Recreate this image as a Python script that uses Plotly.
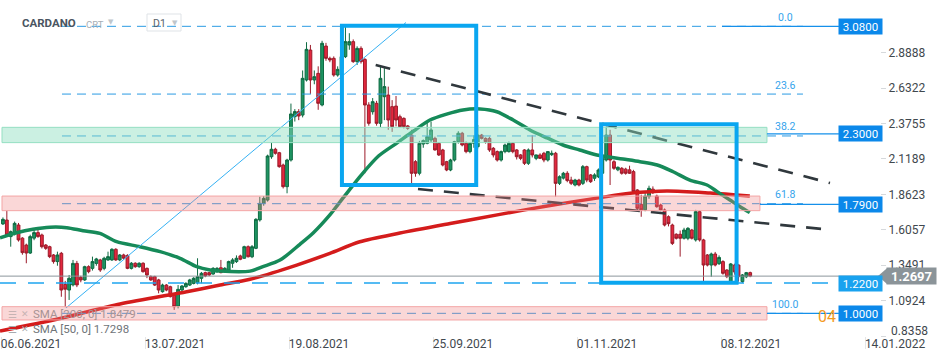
import pandas as pd
import plotly.graph_objects as go

START = pd.Timestamp("2021-06-06")

# ---------------- daily OHLC (CARDANO, D1) ----------------
open_ = [
    1.648, 1.676, 1.556, 1.581, 1.640, 1.545, 1.495, 1.437, 1.545, 1.585,
    1.568, 1.495, 1.483, 1.423, 1.375, 1.435, 1.210, 1.169, 1.206, 1.362,
    1.261, 1.242, 1.338, 1.326, 1.362, 1.387, 1.326, 1.387, 1.387, 1.464,
    1.387, 1.423, 1.420, 1.326, 1.363, 1.338, 1.363, 1.326, 1.266, 1.266,
    1.242, 1.157, 1.205, 1.193, 1.133, 1.053, 1.169, 1.193, 1.205, 1.217,
    1.222, 1.254, 1.295, 1.295, 1.285, 1.302, 1.330, 1.302, 1.314, 1.363,
    1.375, 1.416, 1.399, 1.483, 1.410, 1.471, 1.677, 1.797, 1.821, 2.135,
    2.189, 2.164, 2.075, 1.918, 2.111, 2.425, 2.462, 2.437, 2.691, 2.908,
    2.691, 2.739, 2.510, 2.937, 2.848, 2.848, 2.727, 2.768, 2.860, 2.945,
    2.969, 2.824, 2.920, 2.840, 2.510, 2.461, 2.522, 2.377, 2.570, 2.582,
    2.498, 2.502, 2.425, 2.413, 2.358, 2.292, 2.099, 2.015, 2.227, 2.232,
    2.256, 2.268, 2.232, 2.184, 2.099, 2.039, 2.111, 2.244, 2.305, 2.232,
    2.172, 2.232, 2.208, 2.292, 2.268, 2.268, 2.196, 2.172, 2.111, 2.172,
    2.172, 2.232, 2.184, 2.148, 2.184, 2.087, 2.184, 2.123, 2.148, 2.160,
    2.111, 2.150, 2.160, 1.942, 1.980, 2.015, 1.966, 1.930, 1.966, 1.942,
    2.063, 2.003, 1.979, 1.990, 2.015, 2.111, 2.292, 2.099, 2.040, 2.051,
    2.045, 2.040, 2.027, 1.894, 1.790, 1.750, 1.846, 1.900, 1.850, 1.785,
    1.749, 1.700, 1.640, 1.573, 1.573, 1.544, 1.544, 1.604, 1.532, 1.737,
    1.532, 1.423, 1.350, 1.430, 1.360, 1.375, 1.314, 1.230, 1.350, 1.350,
    1.230, 1.265, 1.295,
]
high = [
    1.695, 1.744, 1.600, 1.665, 1.655, 1.552, 1.505, 1.570, 1.610, 1.605,
    1.578, 1.502, 1.490, 1.430, 1.447, 1.445, 1.235, 1.278, 1.387, 1.380,
    1.272, 1.345, 1.348, 1.411, 1.402, 1.395, 1.410, 1.447, 1.472, 1.472,
    1.430, 1.432, 1.428, 1.372, 1.370, 1.370, 1.370, 1.332, 1.275, 1.272,
    1.250, 1.215, 1.212, 1.200, 1.140, 1.205, 1.205, 1.225, 1.250, 1.262,
    1.399, 1.300, 1.302, 1.300, 1.335, 1.335, 1.387, 1.335, 1.382, 1.400,
    1.420, 1.425, 1.490, 1.492, 1.495, 1.690, 1.845, 1.850, 2.150, 2.235,
    2.200, 2.170, 2.085, 2.120, 2.520, 2.480, 2.480, 2.760, 2.965, 2.945,
    2.760, 2.790, 2.975, 2.960, 2.860, 2.862, 2.790, 2.880, 3.080, 3.030,
    2.985, 2.935, 2.935, 2.850, 2.530, 2.560, 2.540, 2.790, 2.790, 2.643,
    2.545, 2.575, 2.440, 2.420, 2.365, 2.330, 2.110, 2.250, 2.260, 2.380,
    2.390, 2.280, 2.240, 2.192, 2.105, 2.120, 2.250, 2.320, 2.315, 2.245,
    2.240, 2.290, 2.365, 2.300, 2.275, 2.280, 2.205, 2.180, 2.180, 2.230,
    2.245, 2.240, 2.190, 2.155, 2.190, 2.195, 2.290, 2.150, 2.160, 2.170,
    2.175, 2.180, 2.170, 2.000, 2.025, 2.030, 1.990, 1.975, 1.975, 2.075,
    2.070, 2.010, 2.015, 2.050, 2.130, 2.353, 2.330, 2.110, 2.065, 2.060,
    2.055, 2.070, 2.040, 1.900, 1.860, 1.880, 1.925, 1.920, 1.860, 1.795,
    1.760, 1.710, 1.650, 1.580, 1.600, 1.620, 1.625, 1.612, 1.750, 1.745,
    1.540, 1.430, 1.440, 1.445, 1.420, 1.385, 1.320, 1.365, 1.360, 1.355,
    1.285, 1.300, 1.302,
]
low = [
    1.640, 1.560, 1.483, 1.565, 1.520, 1.425, 1.363, 1.430, 1.530, 1.548,
    1.470, 1.460, 1.400, 1.360, 1.345, 1.120, 1.045, 1.097, 1.195, 1.190,
    1.225, 1.235, 1.290, 1.310, 1.345, 1.300, 1.312, 1.380, 1.380, 1.380,
    1.378, 1.390, 1.320, 1.318, 1.330, 1.330, 1.295, 1.255, 1.235, 1.198,
    1.145, 1.150, 1.160, 1.115, 1.025, 1.036, 1.160, 1.185, 1.198, 1.210,
    1.210, 1.218, 1.262, 1.270, 1.280, 1.295, 1.290, 1.295, 1.310, 1.330,
    1.365, 1.385, 1.395, 1.405, 1.400, 1.465, 1.665, 1.780, 1.810, 2.120,
    2.150, 2.055, 1.905, 1.870, 2.100, 2.390, 2.400, 2.420, 2.680, 2.590,
    2.660, 2.475, 2.500, 2.830, 2.820, 2.715, 2.715, 2.750, 2.850, 2.910,
    2.815, 2.800, 2.810, 2.015, 2.360, 2.440, 2.360, 2.350, 2.400, 2.330,
    2.315, 2.355, 2.350, 2.340, 2.330, 1.942, 1.990, 2.000, 2.200, 2.225,
    2.240, 2.180, 2.140, 2.065, 2.030, 2.030, 2.100, 2.230, 2.210, 2.160,
    2.160, 2.200, 2.195, 2.260, 2.230, 2.170, 2.130, 2.100, 2.100, 2.160,
    2.165, 2.160, 2.115, 2.110, 2.075, 2.075, 2.130, 2.110, 2.120, 2.095,
    2.100, 2.140, 1.846, 1.930, 1.970, 1.950, 1.930, 1.920, 1.920, 1.930,
    1.950, 1.945, 1.960, 1.980, 2.000, 2.100, 1.930, 2.040, 2.030, 2.005,
    2.005, 2.010, 1.870, 1.750, 1.700, 1.740, 1.830, 1.865, 1.765, 1.740,
    1.630, 1.630, 1.495, 1.535, 1.411, 1.535, 1.530, 1.535, 1.520, 1.520,
    1.230, 1.340, 1.265, 1.340, 1.350, 1.280, 1.255, 1.220, 1.280, 1.230,
    1.220, 1.255, 1.262,
]
close = [
    1.681, 1.568, 1.592, 1.652, 1.532, 1.440, 1.437, 1.556, 1.585, 1.556,
    1.483, 1.471, 1.411, 1.375, 1.423, 1.169, 1.175, 1.254, 1.362, 1.206,
    1.242, 1.338, 1.302, 1.375, 1.394, 1.314, 1.399, 1.411, 1.464, 1.387,
    1.423, 1.400, 1.326, 1.363, 1.338, 1.363, 1.302, 1.278, 1.242, 1.205,
    1.169, 1.205, 1.169, 1.121, 1.048, 1.174, 1.198, 1.217, 1.242, 1.254,
    1.266, 1.290, 1.271, 1.278, 1.326, 1.326, 1.295, 1.326, 1.375, 1.387,
    1.399, 1.392, 1.483, 1.410, 1.483, 1.681, 1.797, 1.833, 2.140, 2.189,
    2.160, 2.063, 1.918, 2.111, 2.445, 2.462, 2.430, 2.703, 2.913, 2.691,
    2.715, 2.522, 2.957, 2.848, 2.836, 2.727, 2.768, 2.860, 2.969, 2.969,
    2.824, 2.920, 2.824, 2.510, 2.377, 2.534, 2.377, 2.703, 2.643, 2.401,
    2.353, 2.401, 2.353, 2.353, 2.341, 2.015, 2.015, 2.232, 2.252, 2.280,
    2.329, 2.184, 2.148, 2.075, 2.039, 2.111, 2.244, 2.305, 2.220, 2.172,
    2.232, 2.260, 2.292, 2.268, 2.244, 2.184, 2.148, 2.111, 2.172, 2.220,
    2.232, 2.172, 2.135, 2.123, 2.087, 2.184, 2.148, 2.148, 2.123, 2.111,
    2.172, 2.160, 1.942, 1.990, 2.015, 1.962, 1.942, 1.966, 1.930, 2.063,
    1.966, 1.954, 2.003, 2.039, 2.123, 2.292, 2.111, 2.051, 2.058, 2.015,
    2.015, 2.015, 1.882, 1.761, 1.750, 1.850, 1.906, 1.875, 1.773, 1.749,
    1.640, 1.650, 1.507, 1.544, 1.544, 1.604, 1.616, 1.544, 1.737, 1.532,
    1.350, 1.350, 1.430, 1.350, 1.405, 1.290, 1.266, 1.358, 1.300, 1.266,
    1.278, 1.295, 1.2697,
]

# ---------------- moving averages (days after START, value) ----------------
sma50_day = [-0.26, 4.0, 8.2, 12.6, 16.9, 21.1, 25.4, 29.7, 35.7, 40.9, 46.0, 50.3,
             53.7, 56.3, 64.0, 67.3, 71.7, 76.8, 80.2, 84.5, 88.0, 92.5, 97.0, 101.7,
             106.0, 110.2, 114.5, 118.7, 123.1, 127.4, 131.6, 135.9, 140.3, 144.4,
             148.7, 153.1, 159.8, 164.2, 168.6, 172.7, 177.0, 181.4, 184.0, 187.3,
             189.9, 192.4]
sma50_val = [1.548, 1.584, 1.609, 1.624, 1.621, 1.599, 1.580, 1.519, 1.483, 1.447,
             1.399, 1.338, 1.314, 1.306, 1.306, 1.338, 1.386, 1.500, 1.582, 1.713,
             1.840, 2.000, 2.140, 2.234, 2.321, 2.401, 2.444, 2.474, 2.481, 2.461,
             2.401, 2.329, 2.271, 2.220, 2.184, 2.147, 2.118, 2.099, 2.075, 2.026,
             1.966, 1.930, 1.882, 1.821, 1.773, 1.730]
sma200_day = [-0.26, 15.2, 30.6, 47.7, 56.3, 64.0, 76.0, 84.5, 92.2, 102.5, 115.4,
              128.2, 141.1, 153.1, 161.6, 171.1, 182.2, 192.4]
sma200_val = [0.872, 0.963, 1.068, 1.157, 1.205, 1.247, 1.350, 1.435, 1.519, 1.582,
              1.651, 1.717, 1.782, 1.835, 1.870, 1.887, 1.872, 1.850]

# ---------------- drawing objects ----------------
FIB_LEVELS = [3.08, 2.589, 2.2854, 1.7946, 1.0]
FIB_LABELS = ["0.0", "23.6", "38.2", "61.8", "100.0"]
FIB_SPAN = (15.67, 206.06)
GREEN_ZONE = (2.237, 2.348)
RED_ZONE_HI = (1.744, 1.850)
RED_ZONE_LO = (0.952, 1.0483)
ZONE_SPAN = {"green": (0.26, 196.8), "red_hi": (0.26, 195.0), "red_lo": (0.26, 196.8)}
BOX1 = dict(d0=87.6, d1=122.1, p0=1.930, p1=3.0845)
BOX2 = dict(d0=154.2, d1=189.0, p0=1.2222, p1=2.371)
UP_TREND = dict(d0=16.7, p0=1.039, d1=104.06, p1=3.1077)
DOWN_UPPER = dict(d0=96.27, p0=2.800, d1=213.0, p1=1.9446)
DOWN_LOWER = dict(d0=107.14, p0=1.901, d1=210.95, p1=1.6113)
LEVEL_BOXES = [(3.08, "3.0800", 185.25), (2.30, "2.3000", 196.8),
               (1.79, "1.7900", 195.0), (1.00, "1.0000", 196.8)]
SUPPORT_122 = 1.22
CURRENT = 1.2697
SMA_TEXT = ["SMA [200, 0] 1.8479", "SMA [50, 0] 1.7298"]

Y_TICKS = [0.8358, 1.0924, 1.3491, 1.6057, 1.8623, 2.1189, 2.3755, 2.6322, 2.8888]
X_TICKS = ["2021-06-06", "2021-07-13", "2021-08-19", "2021-09-25",
           "2021-11-01", "2021-12-08", "2022-01-14"]
X_TICK_TEXT = ["06.06.2021", "13.07.2021", "19.08.2021", "25.09.2021",
               "01.11.2021", "08.12.2021", "14.01.2022"]
X_RANGE_DAYS = (-0.257, 225.85)
Y_RANGE = (0.8358, 3.2707)


def D(d):
    return START + pd.Timedelta(days=d)


PLOT_W, PLOT_H = 880, 336


def px(x):
    return x / PLOT_W


def py(y):
    return 1 - y / PLOT_H


FONT = "Roboto"
candle_x = [D(i + 0.5) for i in range(len(close))]

fig = go.Figure()
fig.add_trace(go.Candlestick(
    x=candle_x, open=open_, high=high, low=low, close=close,
    increasing=dict(line=dict(color="#0e6a42", width=1), fillcolor="#1f9563"),
    decreasing=dict(line=dict(color="#9c1b2a", width=1), fillcolor="#e3283e"),
    whiskerwidth=0, hoverinfo="skip", showlegend=False,
))
fig.add_trace(go.Scatter(
    x=[D(d) for d in sma200_day], y=sma200_val, mode="lines",
    line=dict(color="#d41c1c", width=3.5, shape="spline", smoothing=0.8),
    hoverinfo="skip", showlegend=False,
))
fig.add_trace(go.Scatter(
    x=[D(d) for d in sma50_day], y=sma50_val, mode="lines",
    line=dict(color="#168a59", width=3.5, shape="spline", smoothing=0.8),
    hoverinfo="skip", showlegend=False,
))

shapes = []
for lv in FIB_LEVELS:
    shapes.append(dict(type="line", xref="x", yref="y", x0=D(FIB_SPAN[0]), x1=D(FIB_SPAN[1]),
                       y0=lv, y1=lv, line=dict(color="#2b9be3", width=1, dash="9px,6px"),
                       layer="above"))
shapes.append(dict(type="line", xref="x", yref="y", x0=D(UP_TREND["d0"]), y0=UP_TREND["p0"],
                   x1=D(UP_TREND["d1"]), y1=UP_TREND["p1"],
                   line=dict(color="#36b1f3", width=1), layer="above"))
for tl in (DOWN_UPPER, DOWN_LOWER):
    shapes.append(dict(type="line", xref="x", yref="y", x0=D(tl["d0"]), y0=tl["p0"],
                       x1=D(tl["d1"]), y1=tl["p1"],
                       line=dict(color="#30383d", width=2.6, dash="15px,11px"), layer="above"))
shapes.append(dict(type="line", xref="x", yref="y", x0=D(X_RANGE_DAYS[0]), x1=D(215.3),
                   y0=SUPPORT_122, y1=SUPPORT_122,
                   line=dict(color="#1ea5ef", width=1.3, dash="16px,12px"), layer="above"))
shapes.append(dict(type="line", xref="x", yref="y", x0=D(X_RANGE_DAYS[0]), x1=D(225.6),
                   y0=CURRENT, y1=CURRENT, line=dict(color="#8c969b", width=1), layer="above"))
for (lo, hi), key, fill, border in [
    (GREEN_ZONE, "green", "rgba(140,222,190,0.45)", "#95dfc2"),
    (RED_ZONE_HI, "red_hi", "rgba(240,130,130,0.32)", "#f3a5a5"),
    (RED_ZONE_LO, "red_lo", "rgba(240,130,130,0.32)", "#f3a5a5"),
]:
    s0, s1 = ZONE_SPAN[key]
    shapes.append(dict(type="rect", xref="x", yref="y", x0=D(s0), x1=D(s1), y0=lo, y1=hi,
                       fillcolor=fill, line=dict(color=border, width=1), layer="above"))
for b in (BOX1, BOX2):
    shapes.append(dict(type="rect", xref="x", yref="y", x0=D(b["d0"]), x1=D(b["d1"]),
                       y0=b["p0"], y1=b["p1"], line=dict(color="#0aa6f0", width=4),
                       fillcolor="rgba(0,0,0,0)", layer="above"))
for lv, _, d0 in LEVEL_BOXES:
    shapes.append(dict(type="line", xref="x", yref="y", x0=D(d0), x1=D(215.3), y0=lv, y1=lv,
                       line=dict(color="#1590ea", width=1.3), layer="above"))
dp = 8 / 138
shapes.append(dict(type="path", xref="paper", yref="y",
                   path=f"M {px(878)},{CURRENT} L {px(887)},{CURRENT + dp} L {px(887)},{CURRENT - dp} Z",
                   fillcolor="#8b9499", line=dict(width=0), layer="above"))
shapes.append(dict(type="rect", xref="paper", yref="paper", x0=px(147), x1=px(181),
                   y0=py(31), y1=py(14), line=dict(color="#dfe3e7", width=1),
                   fillcolor="rgba(0,0,0,0)", layer="above"))

ann = []


def A(**kw):
    kw.setdefault("showarrow", False)
    kw.setdefault("xanchor", "center")
    kw.setdefault("yanchor", "middle")
    ann.append(kw)


for lv, lab in zip(FIB_LEVELS, FIB_LABELS):
    A(x=D(201.5), y=lv, xref="x", yref="y", text=lab, yshift=9,
      font=dict(family=FONT, size=10.5, color="#35a4ec"))
for lv, txt, _ in LEVEL_BOXES:
    A(x=px(860.5), y=lv, xref="paper", yref="y", text=txt,
      bgcolor="#0b88ea", width=41, height=13, borderpad=1,
      font=dict(family=FONT, size=11.5, color="white"))
A(x=px(860.5), y=SUPPORT_122, xref="paper", yref="y", text="1.2200",
  bgcolor="#19a2ef", width=41, height=13, borderpad=1, yshift=-1,
  font=dict(family=FONT, size=11.5, color="white"))
A(x=px(911.5), y=CURRENT, xref="paper", yref="y", text="<b>1.2697</b>",
  bgcolor="#8b9499", width=47, height=14, borderpad=1,
  font=dict(family=FONT, size=13, color="white"))
A(x=px(838), y=1.0, xref="paper", yref="y", text="04", xanchor="right", yshift=-3,
  font=dict(family=FONT, size=16, color="#f39a1e"))
# lowest price tick label sits slightly above the bottom edge, as in the picture
A(x=px(889), y=py(331), xref="paper", yref="paper", text=f"{Y_TICKS[0]:.4f}", xanchor="left",
  font=dict(family=FONT, size=12, color="#3f484e"))
# header
A(x=px(20), y=py(23), xref="paper", yref="paper", text="<b>CARDANO</b>", xanchor="left",
  font=dict(family=FONT, size=11.5, color="#4a5561"))
A(x=px(84), y=py(25), xref="paper", yref="paper", text="CRT", xanchor="left",
  font=dict(family=FONT, size=9.5, color="#a6aeb5"))
A(x=px(106), y=py(22), xref="paper", yref="paper", text="▼", xanchor="left",
  font=dict(family="DejaVu Sans", size=7, color="#c0c6cb"))
A(x=px(151), y=py(23.5), xref="paper", yref="paper", text="D1", xanchor="left",
  font=dict(family=FONT, size=10.5, color="#59626a"))
A(x=px(170), y=py(23), xref="paper", yref="paper", text="▼", xanchor="left",
  font=dict(family="DejaVu Sans", size=7, color="#c0c6cb"))
# SMA legend lines
for i, (txt, col, icol) in enumerate([(SMA_TEXT[0], "#a79293", "#c7b3b3"),
                                        (SMA_TEXT[1], "#6f7478", "#a7abae")]):
    yy = py(314 + 15 * i)
    A(x=px(6), y=yy, xref="paper", yref="paper", text="☰", xanchor="left",
      font=dict(family="DejaVu Sans", size=10, color=icol))
    A(x=px(19), y=yy, xref="paper", yref="paper", text="✕", xanchor="left",
      font=dict(family="DejaVu Sans", size=9, color=icol))
    A(x=px(31), y=yy, xref="paper", yref="paper", text=txt, xanchor="left",
      font=dict(family=FONT, size=11.5, color=col))

fig.update_layout(
    width=950, height=361, autosize=False,
    margin=dict(l=0, r=950 - PLOT_W, t=0, b=361 - PLOT_H),
    paper_bgcolor="white", plot_bgcolor="white",
    showlegend=False, boxgap=0.2, boxgroupgap=0.1,
    shapes=shapes, annotations=ann,
    xaxis=dict(
        type="date", range=[D(X_RANGE_DAYS[0]), D(X_RANGE_DAYS[1])],
        tickvals=[pd.Timestamp(t) for t in X_TICKS], ticktext=X_TICK_TEXT,
        ticks="outside", ticklen=12, tickcolor="#e4e6e8", tickwidth=1,
        ticklabelshift=30, ticklabelstandoff=-15,
        showgrid=False, zeroline=False, showline=False,
        rangeslider=dict(visible=False),
        tickfont=dict(family=FONT, size=12, color="#3f484e"),
    ),
    yaxis=dict(
        side="right", range=list(Y_RANGE),
        tickvals=Y_TICKS, ticktext=[""] + [f"{v:.4f}" for v in Y_TICKS[1:]],
        ticks="outside", ticklen=5, tickcolor="#d6d9dc",
        showgrid=False, zeroline=False, showline=False,
        tickfont=dict(family=FONT, size=12, color="#3f484e"),
    ),
)

fig.write_html("out.html", config={"displayModeBar": False},
               post_script="document.body.style.margin='0';document.body.style.overflow='hidden';")
